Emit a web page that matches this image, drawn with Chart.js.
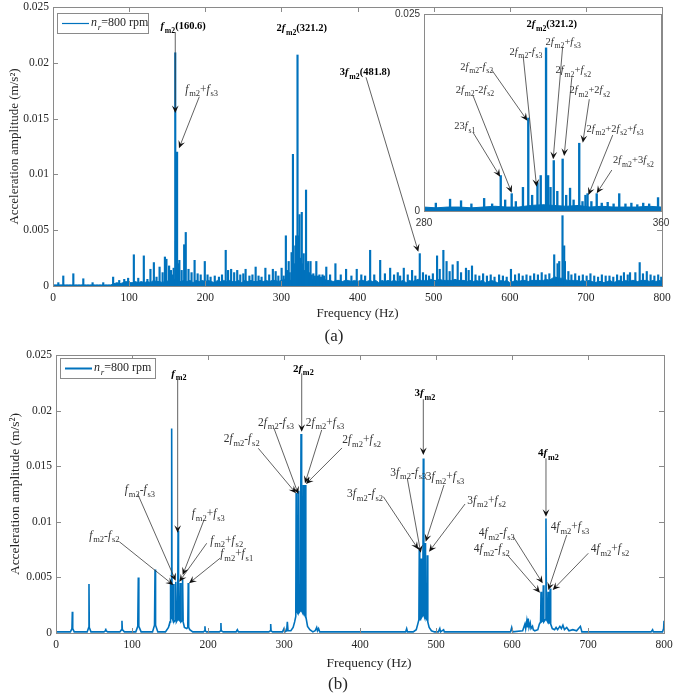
<!DOCTYPE html>
<html>
<head>
<meta charset="utf-8">
<script src="https://cdn.jsdelivr.net/npm/chart.js@4.4.0/dist/chart.umd.min.js"></script>
<style>
  html, body { margin: 0; padding: 0; background: #fff; }
  #wrap { position: relative; width: 676px; height: 698px; }
  canvas { position: absolute; }
</style>
</head>
<body>
<div id="wrap">
  <canvas id="chartA" width="676" height="345" style="left:0;top:0"></canvas>
  <canvas id="chartInset" width="286" height="235" style="left:390px;top:0"></canvas>
  <canvas id="chartB" width="676" height="353" style="left:0;top:345px"></canvas>
</div>
<script>
// all amplitudes below are in 1e-4 m/s^2
const UNIT = 1e-4;
const BLUE = '#0072BD';

const xTicksMain = [0, 100, 200, 300, 400, 500, 600, 700, 800];
const yTicksMain = [0, 50, 100, 150, 200, 250];
const xTicksInset = [280, 360];
const yTicksInset = [0, 250];
const legendLabel = 'n_r=800 rpm';

// (a) broadband floor, one value every 4 Hz from 0 to 800 Hz
const floorStepA = 4;
const floorA = [
  1, 1, 1, 1, 1, 1, 1, 1, 1, 1, 1, 1, 1, 1, 1, 1, 1, 1, 1, 1,
  2, 3, 2, 3, 4, 3, 3, 4, 3, 4, 3, 4, 3, 5, 4, 4, 3, 5, 4, 5,
  6, 4, 4, 5, 4, 5, 3, 5, 4, 5, 4, 5, 4, 3, 5, 4, 5, 4, 5, 4,
  4, 5, 3, 5, 4, 5, 4, 4, 5, 4, 5, 4, 5, 5, 4, 5, 6, 5, 5, 7,
  8, 7, 6, 7, 5, 6, 5, 5, 5, 6, 5, 5, 4, 5, 5, 4, 5, 5, 4, 5,
  4, 5, 5, 4, 5, 4, 5, 3, 5, 4, 5, 4, 5, 4, 4, 5, 3, 5, 4, 5,
  6, 5, 5, 5, 6, 5, 5, 6, 5, 5, 5, 5, 6, 5, 5, 5, 4, 5, 4, 5,
  4, 5, 3, 4, 5, 4, 3, 5, 4, 5, 3, 4, 5, 4, 5, 5, 4, 5, 5, 5,
  5, 5, 6, 5, 7, 8, 7, 7, 6, 5, 5, 5, 5, 4, 5, 4, 5, 4, 3, 4,
  4, 3, 4, 5, 3, 4, 5, 4, 5, 4, 5, 5, 4, 5, 5, 5, 4, 5, 4, 5,
  4
];

// (a) spectral lines [Hz, amplitude]
const peaksA = [
  [7, 3], [13.5, 9], [26.7, 11], [39.8, 6.5], [52, 3], [66, 3], [79, 8], [87, 5], [93.6, 6], [98.7, 7],
  [106.2, 28], [112, 7], [119.3, 27], [124, 6], [128, 15], [132.5, 21], [136, 8], [140, 17], [144, 12], [147, 26],
  [149, 24], [152.5, 18], [155, 14], [157, 10], [158.5, 16], [160.6, 209], [161.5, 40], [163, 120], [164.5, 20], [166, 23],
  [169, 14], [172.3, 37], [174.4, 48], [178, 15], [182, 12], [186, 23], [190, 11], [194, 10], [199.4, 22], [203, 10],
  [207, 8], [212.5, 9], [218, 8], [222, 10], [226.9, 32], [230, 14], [234, 15], [238, 12], [242, 14], [246, 10],
  [250, 11], [253, 15], [258, 9], [262, 10], [266.2, 17], [270, 9], [274, 8], [279, 16], [284, 10],
  [288.8, 15], [292.5, 13], [296, 9], [300.3, 16], [303, 9], [305.9, 45], [307.4, 14], [309.6, 22], [311, 12], [313.4, 30],
  [315.2, 118], [316.5, 20], [318.3, 36], [319.4, 45], [321.2, 207], [321.9, 45], [322.7, 30], [323.8, 64], [325, 25], [326.8, 66],
  [328, 20], [329.3, 29], [330.5, 14], [332.4, 86], [333.5, 12], [334.5, 20], [335.2, 22], [336.5, 12], [338.3, 22], [340, 10],
  [342, 11], [344, 9], [345.9, 22], [348, 9], [350, 10], [352, 8], [354, 10], [356, 9], [359, 17],
  [364, 10], [371, 20], [378, 10], [385, 15], [392, 9], [399, 15], [405, 10], [410, 9], [416.6, 32], [422, 10],
  [429.8, 23], [436, 11], [442.9, 16], [448, 10], [452.9, 12], [456, 9], [460.8, 16], [466, 10], [471.7, 14], [476, 9],
  [481.8, 29], [486, 12], [490, 10], [494, 9], [499, 11], [504.5, 27], [508, 15], [512.8, 32], [517, 22], [521, 13],
  [525, 19], [531.6, 22], [536, 12], [542.5, 16], [546, 14], [550.4, 18], [555, 10], [560, 9], [565, 11], [570, 9],
  [575, 10], [580, 8], [586, 10], [591, 9], [596, 8], [601.6, 15], [607, 10], [612, 11], [617, 9], [622, 10],
  [627, 9], [632, 11], [637, 10], [642, 12], [647, 10], [652, 11], [658.4, 28], [662.8, 20], [665, 22], [669.3, 63],
  [671.5, 36], [672.5, 22], [677, 13], [681, 10], [686, 11], [691, 9], [696, 10], [701, 9], [706, 11], [711, 9],
  [716, 8], [721, 10], [726, 9], [731, 9], [736, 8], [741, 10], [746, 9], [750, 12], [755, 10], [758, 12],
  [765, 12], [770.7, 21], [775, 11], [780, 13], [785, 10], [790, 9], [795, 10], [799, 8]
];

// (b) spectrum trace [Hz, amplitude]
const specB = [
  [0, 1], [19, 1], [21, 4], [21.5, 19], [22, 4], [24, 1],
  [41, 1], [43, 5], [43.4, 44], [43.8, 5], [46, 1],
  [63, 1], [65, 2], [65.4, 4], [65.8, 2], [68, 1],
  [84, 1], [86.3, 3], [86.8, 11], [87.3, 3], [90, 1],
  [105, 1], [107.6, 6], [108.3, 50], [109, 6], [112, 1],
  [127, 1], [129.6, 7], [130.3, 57], [131, 7], [134, 1],
  [144, 1], [148, 5], [150, 10], [150.5, 45], [151, 12], [151.8, 15], [152.2, 184], [152.7, 14], [153.6, 12], [154.4, 44],
  [155.2, 10], [156.8, 11], [157.6, 46], [158.4, 10], [160, 12], [160.6, 92], [161.2, 12], [162.8, 11], [163.6, 45], [164.4, 10],
  [165.9, 11], [166.6, 48], [167.3, 10], [169, 5], [172, 4], [173.4, 5], [174, 45], [174.6, 5], [176, 3], [180, 1],
  [194, 1], [195.6, 2], [196, 6], [196.4, 2], [198, 1],
  [215, 1], [216.6, 2], [217, 9], [217.4, 2], [220, 1],
  [237, 1], [238.6, 3], [240, 1],
  [280, 1], [282, 2], [282.5, 8], [283, 2], [285, 1],
  [298, 1], [300, 4], [301, 1], [303.5, 2], [304.4, 10], [305.3, 2],
  [309, 2], [312, 5], [314, 10], [315.5, 15], [316, 126], [316.5, 20], [318, 18], [318.8, 128], [319.5, 18], [321.5, 20],
  [322.4, 179], [323.2, 20], [324.6, 18], [325.4, 133], [326.2, 18], [327.4, 16], [328, 133], [328.7, 15], [331, 6], [334, 3], [338, 1],
  [341, 2], [343, 5], [344, 2], [345.5, 4], [347, 1],
  [460, 1], [461.4, 4], [462.5, 1],
  [470, 1], [474, 3], [476, 8], [477.5, 12], [478, 75], [478.6, 12], [479.6, 12], [480.3, 67], [481, 14], [482.6, 16],
  [483.3, 157], [484, 16], [485, 14], [485.6, 81], [486.2, 14], [488, 12], [488.6, 70], [489.2, 10], [491, 5], [494, 2], [498, 1],
  [503, 1], [505, 4], [506, 1], [510, 3], [511, 1],
  [598, 1], [599.6, 5], [601, 1],
  [614, 2], [617, 8], [618, 4], [619.5, 11], [620.5, 5], [621.4, 13], [622.4, 5], [624, 9], [625, 4], [627, 6], [628, 3], [630, 2],
  [634, 3], [636, 8], [637.6, 10], [638.2, 37], [638.8, 10], [640.5, 11], [641.2, 43], [641.9, 10], [644, 12], [644.7, 103],
  [645.4, 12], [646.9, 10], [647.5, 37], [648.1, 9], [649.5, 9], [650.2, 40], [650.9, 8], [653, 4], [656, 3],
  [658, 5], [660, 3], [663, 6], [665, 4], [667, 7], [669, 3], [672, 5], [675, 2], [680, 3], [685, 2], [690, 6], [692, 1],
  [700, 1], [783, 1], [785, 3], [786, 1], [798, 1], [799.5, 4], [800, 11]
];

// annotations: label centre, arrow start, arrow tip, all as [Hz, amplitude]
const notesA = [
  { t: 'f_m2(160.6)', b: true, at: [171, 233], from: [160.6, 227.6], to: [160.6, 155] },
  { t: 'f_m2+f_s3', at: [195.3, 176.5], from: [192.2, 169.6], to: [165.5, 123.4] },
  { t: '2f_m2(321.2)', b: true, at: [326.7, 231.2] },
  { t: '3f_m2(481.8)', b: true, at: [409.9, 191.8], from: [411.2, 187], to: [479.9, 30.7] }
];
const notesInset = [
  { t: '2f_m2(321.2)', b: true, at: [323.1, 237.3] },
  { t: '2f_m2+f_s3', at: [327.0, 214.8], from: [326.8, 208.5], to: [323.6, 65.6] },
  { t: '2f_m2-f_s3', at: [314.4, 202.2], from: [313.5, 195.8], to: [318.0, 30.8] },
  { t: '2f_m2-f_s2', at: [297.8, 183.1], from: [302.9, 178.9], to: [314.9, 114.6] },
  { t: '2f_m2+f_s2', at: [330.4, 178.9], from: [329.9, 169.7], to: [327.3, 69.8] },
  { t: '2f_m2-2f_s2', at: [297.2, 154.4], from: [296.6, 145.9], to: [309.6, 23.2] },
  { t: '2f_m2+2f_s2', at: [336.0, 153.6], from: [335.8, 141.8], to: [333.6, 86.7] },
  { t: '23f_s1', at: [293.8, 107.9], from: [296.6, 99.4], to: [305.7, 43.5] },
  { t: '2f_m2+2f_s2+f_s3', at: [344.5, 104.9], from: [343.7, 96.4], to: [335.5, 20.3] },
  { t: '2f_m2+3f_s2', at: [350.7, 64.7], from: [343.4, 52], to: [338.3, 22.5] }
];
const notesB = [
  { t: 'f_m2', b: true, at: [161.8, 233.5], from: [160.1, 228.1], to: [160.1, 90.2] },
  { t: 'f_m2-f_s3', at: [110.5, 129.2], from: [107.5, 125], to: [157.5, 47] },
  { t: 'f_m2-f_s2', at: [63.6, 88.1], from: [83.3, 82.1], to: [154.3, 43.2] },
  { t: 'f_m2+f_s3', at: [200.4, 107.6], from: [194.7, 101.6], to: [166.7, 52.2] },
  { t: 'f_m2+f_s2', at: [224.6, 83.6], from: [198.3, 80.7], to: [162.2, 46.1] },
  { t: 'f_m2+f_s1', at: [237.8, 71.7], from: [215.8, 67.2], to: [175, 44.7] },
  { t: '2f_m2', b: true, at: [325.4, 238], from: [323.3, 233.5], to: [323.3, 181] },
  { t: '2f_m2-f_s2', at: [244.3, 175.1], from: [266.2, 166.1], to: [315.8, 125.6] },
  { t: '2f_m2-f_s3', at: [289.5, 190], from: [286.8, 184.1], to: [318.8, 125] },
  { t: '2f_m2+f_s3', at: [353.9, 190], from: [349.6, 182.6], to: [327.6, 134.6] },
  { t: '2f_m2+f_s2', at: [402.2, 174.2], from: [376.3, 166.4], to: [328.9, 134] },
  { t: '3f_m2', b: true, at: [485.5, 216.1], from: [483.3, 210.2], to: [483.3, 160.1] },
  { t: '3f_m2-f_s3', at: [463.6, 145], from: [462.2, 139.1], to: [479.9, 72.2] },
  { t: '3f_m2+f_s3', at: [511.8, 140.6], from: [510.5, 133.1], to: [486.4, 82.1] },
  { t: '3f_m2-f_s2', at: [406.6, 125.6], from: [430.7, 122.6], to: [476.7, 75.3] },
  { t: '3f_m2+f_s2', at: [566.7, 119.6], from: [538.2, 116], to: [490.8, 73.1] },
  { t: '4f_m2', b: true, at: [647.8, 162.1], from: [644.7, 157.1], to: [644.7, 104.6] },
  { t: '4f_m2-f_s3', at: [579.9, 90.2], from: [601.7, 86.6], to: [640.4, 44.7] },
  { t: '4f_m2-f_s2', at: [573.3, 76.2], from: [595.1, 69.2], to: [636.8, 36.2] },
  { t: '4f_m2+f_s3', at: [676.3, 95.6], from: [672.0, 88.1], to: [647.8, 38.7] },
  { t: '4f_m2+f_s2', at: [728.9, 76.2], from: [700.4, 71.7], to: [653.6, 38.7] }
];

const SERIF = '"Liberation Serif", "Times New Roman", serif';
const SANS = '"Liberation Sans", Arial, sans-serif';
const AXIS = '#8a8a8a';
const TEXT = '#262626';

const toXY = ([x, y]) => ({ x, y: y * UNIT });
const fmt = v => String(parseFloat(v.toFixed(4)));

// split 'f_m2+f_s3' into italic f, subscripts and plain runs
function runsOf(text) {
  const out = [];
  let buf = '';
  const flush = () => { if (buf) { out.push({ s: buf, it: false, sub: false }); buf = ''; } };
  for (let i = 0; i < text.length;) {
    const c = text[i];
    if (c === 'f' || c === 'n') {
      flush(); out.push({ s: c, it: true, sub: false }); i++;
    } else if (c === '_') {
      flush();
      let j = i + 1;
      while (j < text.length && /[A-Za-z0-9]/.test(text[j])) j++;
      const s = text.slice(i + 1, j);
      out.push({ s, it: s === 'r', sub: true });
      i = j;
    } else {
      buf += c; i++;
    }
  }
  flush();
  return out;
}

function drawRich(ctx, text, x, y, size, bold, align) {
  const runs = runsOf(text);
  const fontOf = r => `${r.it ? 'italic ' : ''}${bold ? 'bold ' : ''}${r.sub ? size * 0.74 : size}px ${SERIF}`;
  let w = 0;
  runs.forEach(r => { ctx.font = fontOf(r); r.w = ctx.measureText(r.s).width + (r.it && !r.sub ? 0.8 : 0); w += r.w; });
  let px = align === 'left' ? x : x - w / 2;
  const base = y + size * 0.33;
  ctx.textAlign = 'left';
  ctx.textBaseline = 'alphabetic';
  runs.forEach(r => {
    ctx.font = fontOf(r);
    ctx.fillText(r.s, px, base + (r.sub ? size * 0.3 : 0));
    px += r.w;
  });
}

function arrow(ctx, x1, y1, x2, y2) {
  const ang = Math.atan2(y2 - y1, x2 - x1);
  const L = 7.5, W = 3.4;
  ctx.strokeStyle = '#3a3a3a';
  ctx.lineWidth = 0.8;
  ctx.beginPath();
  ctx.moveTo(x1, y1);
  ctx.lineTo(x2 - Math.cos(ang) * L * 0.6, y2 - Math.sin(ang) * L * 0.6);
  ctx.stroke();
  const c = Math.cos(ang), s = Math.sin(ang);
  const bx = x2 - c * L, by = y2 - s * L;
  ctx.fillStyle = '#111';
  ctx.beginPath();
  ctx.moveTo(x2, y2);
  ctx.lineTo(bx - s * W, by + c * W);
  ctx.lineTo(x2 - c * L * 0.6, y2 - s * L * 0.6);
  ctx.lineTo(bx + s * W, by - c * W);
  ctx.closePath();
  ctx.fill();
}

function makeFrame(spec) {
  return {
    id: 'frame',
    beforeDraw(chart) {
      if (!spec.fill) return;
      const { ctx, chartArea: a } = chart;
      ctx.save();
      ctx.fillStyle = spec.fill;
      ctx.fillRect(a.left, a.top, a.right - a.left, a.bottom - a.top);
      ctx.restore();
    },
    afterDraw(chart) {
      const { ctx, chartArea: a, scales: { x, y } } = chart;
      ctx.save();
      ctx.strokeStyle = AXIS;
      ctx.lineWidth = 1;
      ctx.strokeRect(a.left + 0.5, a.top + 0.5, a.right - a.left, a.bottom - a.top);

      const L = spec.tickLen || 0;
      if (L) {
        ctx.beginPath();
        x.ticks.forEach(t => {
          const p = Math.round(x.getPixelForValue(t.value)) + 0.5;
          ctx.moveTo(p, a.bottom); ctx.lineTo(p, a.bottom - L);
          ctx.moveTo(p, a.top); ctx.lineTo(p, a.top + L);
        });
        y.ticks.forEach(t => {
          const p = Math.round(y.getPixelForValue(t.value)) + 0.5;
          ctx.moveTo(a.left, p); ctx.lineTo(a.left + L, p);
          ctx.moveTo(a.right, p); ctx.lineTo(a.right - L, p);
        });
        ctx.stroke();
      }

      // tick labels
      ctx.fillStyle = spec.tickColor || TEXT;
      ctx.font = spec.tickFont;
      ctx.textBaseline = 'middle';
      ctx.textAlign = 'center';
      x.ticks.forEach(t => ctx.fillText(fmt(t.value), x.getPixelForValue(t.value), a.bottom + spec.xLabelGap));
      ctx.textAlign = 'right';
      y.ticks.forEach(t => ctx.fillText(fmt(t.value), a.left - spec.yLabelGap, y.getPixelForValue(t.value)));

      // axis titles
      ctx.fillStyle = TEXT;
      if (spec.xTitle) {
        ctx.font = spec.titleFont;
        ctx.textAlign = 'center';
        ctx.fillText(spec.xTitle, (a.left + a.right) / 2 + spec.xTitleDx, a.bottom + spec.xTitleGap);
        ctx.font = spec.tagFont;
        ctx.fillText(spec.tag, spec.tagX, a.bottom + spec.tagGap);
        ctx.save();
        ctx.translate(spec.yTitleX, (a.top + a.bottom) / 2);
        ctx.rotate(-Math.PI / 2);
        ctx.font = spec.titleFont;
        ctx.fillText(spec.yTitle, 0, 0);
        ctx.restore();
      }

      // legend
      if (spec.legend) {
        const lx = a.left + 4, ly = a.top + spec.legend.dy;
        ctx.fillStyle = '#fff';
        ctx.fillRect(lx, ly, spec.legend.w, 20);
        ctx.strokeStyle = AXIS;
        ctx.strokeRect(lx + 0.5, ly + 0.5, spec.legend.w, 20);
        ctx.strokeStyle = BLUE;
        ctx.lineWidth = spec.legend.lw;
        ctx.beginPath();
        ctx.moveTo(lx + 5, ly + 10.5); ctx.lineTo(lx + 32, ly + 10.5);
        ctx.stroke();
        ctx.fillStyle = TEXT;
        drawRich(ctx, chart.data.datasets[0].label, lx + 34, ly + 9, 12, false, 'left');
      }

      // annotations
      (spec.notes || []).forEach(n => {
        if (n.from) {
          arrow(ctx, x.getPixelForValue(n.from[0]), y.getPixelForValue(n.from[1] * UNIT),
            x.getPixelForValue(n.to[0]), y.getPixelForValue(n.to[1] * UNIT));
        }
        ctx.fillStyle = n.b ? '#000' : '#333';
        drawRich(ctx, n.t, x.getPixelForValue(n.at[0]), y.getPixelForValue(n.at[1] * UNIT),
          n.b ? spec.boldSize : spec.noteSize, !!n.b, 'center');
      });
      ctx.restore();
    }
  };
}

function axis(min, max, ticks, size, isX) {
  return {
    type: 'linear', min, max, offset: false,
    grid: { display: false, drawTicks: false },
    border: { display: false },
    ticks: { display: false },
    afterBuildTicks: s => { s.ticks = ticks.map(v => ({ value: v })); },
    afterFit: s => { if (isX) s.height = size; else s.width = size; }
  };
}

const common = {
  responsive: false,
  animation: false,
  events: [],
  plugins: { legend: { display: false }, tooltip: { enabled: false } }
};

const spectrumA = barWidth => [
  { type: 'bar', label: legendLabel, data: peaksA.map(toXY), backgroundColor: BLUE, borderWidth: 0, barThickness: barWidth, grouped: false },
  { type: 'line', label: 'floor', data: floorA.map((v, i) => ({ x: i * floorStepA, y: v * UNIT })), borderColor: BLUE, backgroundColor: BLUE, borderWidth: 1, pointRadius: 0, fill: 'origin' }
];

// (a) full spectrum
new Chart(document.getElementById('chartA'), {
  type: 'bar',
  data: { datasets: spectrumA(1.5) },
  options: {
    ...common,
    layout: { padding: { left: 0, right: 14, top: 7, bottom: 0 } },
    scales: {
      x: axis(0, 800, xTicksMain, 59, true),
      y: axis(0, 250 * UNIT, yTicksMain.map(v => v * UNIT), 53, false)
    }
  },
  plugins: [makeFrame({
    tickLen: 5, tickFont: `11.5px ${SERIF}`, xLabelGap: 12, yLabelGap: 4,
    xTitle: 'Frequency (Hz)', xTitleDx: 0, xTitleGap: 28, titleFont: `13px ${SERIF}`,
    tag: '(a)', tagX: 334, tagGap: 51, tagFont: `17px ${SERIF}`,
    yTitle: 'Acceleration amplitude (m/s²)', yTitleX: 15,
    legend: { dy: 6, w: 91, lw: 1.2 },
    notes: notesA, noteSize: 11.5, boldSize: 10.5
  })]
});

// (a) inset 280-360 Hz
new Chart(document.getElementById('chartInset'), {
  type: 'bar',
  data: { datasets: spectrumA(1.7) },
  options: {
    ...common,
    layout: { padding: { left: 0, right: 15, top: 14, bottom: 0 } },
    scales: {
      x: axis(280, 360, xTicksInset, 24, true),
      y: axis(0, 250 * UNIT, yTicksInset.map(v => v * UNIT), 34, false)
    }
  },
  plugins: [makeFrame({
    fill: '#fff', tickLen: 0, tickFont: `10px ${SANS}`, tickColor: '#333', xLabelGap: 12, yLabelGap: 4,
    notes: notesInset, noteSize: 10.5, boldSize: 10.5
  })]
});

// (b) spectrum
new Chart(document.getElementById('chartB'), {
  type: 'line',
  data: {
    datasets: [
      { label: legendLabel, data: specB.map(toXY), borderColor: BLUE, borderWidth: 1.6, pointRadius: 0, fill: false, tension: 0 }
    ]
  },
  options: {
    ...common,
    layout: { padding: { left: 0, right: 12, top: 10, bottom: 0 } },
    scales: {
      x: axis(0, 800, xTicksMain, 65, true),
      y: axis(0, 250 * UNIT, yTicksMain.map(v => v * UNIT), 56, false)
    }
  },
  plugins: [makeFrame({
    tickLen: 5, tickFont: `11.5px ${SERIF}`, xLabelGap: 12, yLabelGap: 4,
    xTitle: 'Frequency (Hz)', xTitleDx: 9, xTitleGap: 30, titleFont: `13.5px ${SERIF}`,
    tag: '(b)', tagX: 338, tagGap: 52, tagFont: `17px ${SERIF}`,
    yTitle: 'Acceleration amplitude (m/s²)', yTitleX: 15,
    legend: { dy: 3, w: 95, lw: 2 },
    notes: notesB, noteSize: 11.5, boldSize: 11
  })]
});
</script>
</body>
</html>
